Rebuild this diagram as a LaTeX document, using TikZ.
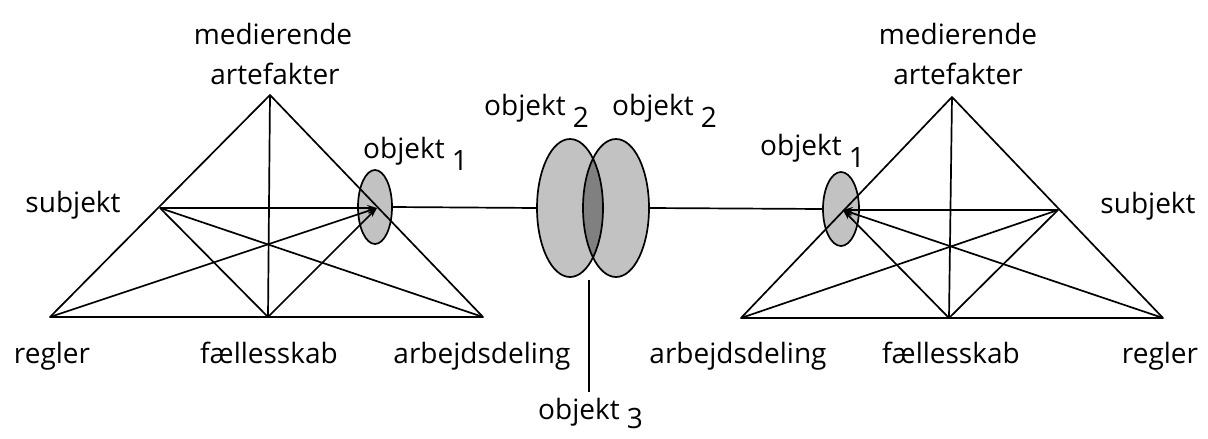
\documentclass[tikz,border=0pt]{standalone}
\usepackage{fontspec}
\setmainfont{Open Sans}
\usetikzlibrary{arrows.meta,shapes.geometric}
\definecolor{objfill}{gray}{0.76}
\definecolor{overlapfill}{gray}{0.50}
\begin{document}
\begin{tikzpicture}[x=1pt,y=-1pt,
  edge/.style={line width=1.7pt, line join=round},
  toobj/.style={edge, -{Stealth[length=10pt,width=6pt]}},
  lbl/.style={font=\fontsize{28}{32}\selectfont, inner sep=0pt, anchor=base},
  objlbl/.style={lbl, anchor=base west},
  objell/.style={ellipse, fill=objfill, inner sep=0pt}]
\useasboundingbox (0,0) rectangle (1208,439);

% ---------- left activity system ----------
\coordinate (LA)  at (270,95);   % mediating artefacts
\coordinate (LBL) at (50,317);   % rules
\coordinate (LM)  at (268,317);  % community
\coordinate (LBR) at (483,317);  % division of labour
\coordinate (LS)  at (160,208);  % subject
\coordinate (LO)  at (377,208);  % object 1

\node[objell, minimum width=34pt, minimum height=74pt] (O1L) at (375,207) {};
\draw[edge] (O1L.center) ellipse [x radius=17pt, y radius=37pt];

\draw[edge] (LA) -- (LBL) -- (LBR) -- cycle;
\draw[edge] (LA) -- (LM);
\draw[edge] (LS) -- (LM);
\draw[edge] (LS) -- (LBR);
\draw[toobj] (LS) -- (LO);
\draw[toobj] (LBL) -- (LO);
\draw[toobj] (LM) -- (LO);

% ---------- right activity system ----------
\coordinate (RA)  at (952,97);
\coordinate (RBR) at (1163,318);
\coordinate (RM)  at (949,318);
\coordinate (RBL) at (741,318);
\coordinate (RS)  at (1058,210);
\coordinate (RO)  at (843,210);

\node[objell, minimum width=36pt, minimum height=74pt] (O1R) at (841,209) {};
\draw[edge] (O1R.center) ellipse [x radius=18pt, y radius=37pt];

\draw[edge] (RA) -- (RBR) -- (RBL) -- cycle;
\draw[edge] (RA) -- (RM);
\draw[edge] (RS) -- (RM);
\draw[edge] (RS) -- (RBL);
\draw[toobj] (RS) -- (RO);
\draw[toobj] (RBR) -- (RO);
\draw[toobj] (RM) -- (RO);

% ---------- shared object 2 ----------
\node[objell, minimum width=66pt, minimum height=138pt] (O2L) at (570,208) {};
\node[objell, minimum width=66pt, minimum height=138pt] (O2R) at (616,208) {};
\begin{scope}
  \clip (O2L.center) ellipse [x radius=33pt, y radius=69pt];
  \fill[overlapfill] (O2R.center) ellipse [x radius=33pt, y radius=69pt];
\end{scope}
\draw[edge] (O2L.center) ellipse [x radius=33pt, y radius=69pt];
\draw[edge] (O2R.center) ellipse [x radius=33pt, y radius=69pt];

\draw[edge] (O1L.east) -- (O2L.west);
\draw[edge] (O2R.east) -- (O1R.west);

\coordinate (O3top) at (589,280);
\coordinate (O3end) at (589,392);
\draw[edge] (O3top) -- (O3end);

% ---------- labels ----------
\node[lbl] (medL) at (273,44) {medierende};
\node[lbl] (artL) at (275,84) {artefakter};
\node[lbl] (subL) at (73,212) {subjekt};
\node[lbl] (regL) at (52,363) {regler};
\node[lbl] (faeL) at (269,363) {fællesskab};
\node[lbl] (arbL) at (482,363) {arbejdsdeling};

\node[lbl] (medR) at (958,44) {medierende};
\node[lbl] (artR) at (958,84) {artefakter};
\node[lbl] (subR) at (1148,213) {subjekt};
\node[lbl] (regR) at (1160,363) {regler};
\node[lbl] (faeR) at (951,363) {fællesskab};
\node[lbl] (arbR) at (738,363) {arbejdsdeling};

\node[objlbl] (ob1L) at (363,158) {objekt \raisebox{-12pt}{1}};
\node[objlbl] (ob2L) at (484,115) {objekt \raisebox{-12pt}{2}};
\node[objlbl] (ob2R) at (612,115) {objekt \raisebox{-12pt}{2}};
\node[objlbl] (ob1R) at (760,155) {objekt \raisebox{-12pt}{1}};
\node[objlbl] (ob3)  at (538,419) {objekt \raisebox{-9pt}{3}};
\end{tikzpicture}
\end{document}
